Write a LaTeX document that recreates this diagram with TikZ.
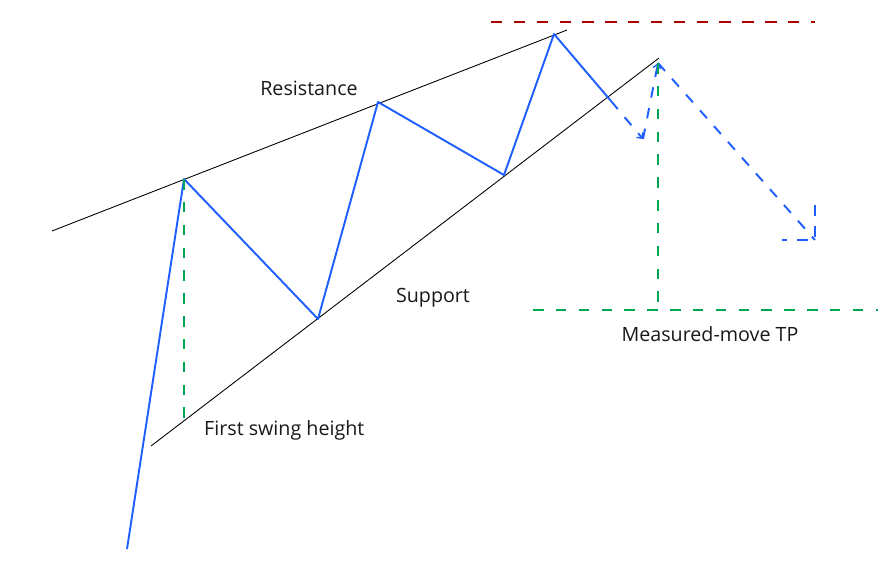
\documentclass[tikz,border=0pt]{standalone}
\usepackage{fontspec}
\setmainfont{Open Sans}
\usepackage{tikz}
\usetikzlibrary{arrows.meta,positioning}
\definecolor{trendblue}{RGB}{31,95,255}
\definecolor{targetgreen}{RGB}{0,166,81}
\definecolor{topred}{RGB}{170,0,0}

\begin{document}
\begin{tikzpicture}[
    x=0.02cm, y=-0.02cm,
    every node/.style={font=\fontsize{11.2}{13}\selectfont, text=black!90},
    trendline/.style={black, line width=0.5pt},
    price/.style={trendblue, line width=1.1pt, line join=round},
    projected/.style={trendblue, line width=1.1pt, dash pattern=on 6pt off 6pt},
    measure/.style={targetgreen, line width=1.1pt, dash pattern=on 6pt off 7pt},
    peakline/.style={topred, line width=1.1pt, dash pattern=on 6.5pt off 6.5pt},
    tip/.style={-{Straight Barb[length=2.5pt,width=4.5pt,line width=0.8pt]}}
]
\useasboundingbox (0,0) rectangle (894,585);

% Swing points of the price path
\coordinate (start) at (127,549);
\coordinate (h1) at (184,179);
\coordinate (l1) at (318,319);
\coordinate (h2) at (378,102);
\coordinate (l2) at (504,175);
\coordinate (h3) at (554,34);
\coordinate (brk) at (611,101);
\coordinate (retest) at (643,139);
\coordinate (pull) at (658,63);
\coordinate (tgt) at (815,240);

% Wedge boundaries
\coordinate (resA) at (52,231);
\coordinate (resB) at (567,30);
\coordinate (supA) at (151,446);
\coordinate (supB) at (659,58);
\draw[trendline] (resA) -- (resB);
\draw[trendline] (supA) -- (supB);

% Price path
\draw[price] (start) -- (h1) -- (l1) -- (h2) -- (l2) -- (h3) -- (brk);

% Projected breakdown
\draw[projected, tip] (brk) -- (retest);
\draw[projected, tip] (retest) -- (pull);
\draw[projected] (pull) -- (tgt);
\draw[projected] (815,205) -- (tgt) -- (782,240);

% Peak level
\coordinate (redL) at (491,22);
\coordinate (redR) at (815,22);
\draw[peakline] (redL) -- (redR);

% Measured move
\coordinate (swingB) at (184,425);
\coordinate (tpTop) at (658,63);
\coordinate (tpBot) at (658,310);
\coordinate (tpL) at (533,310);
\coordinate (tpR) at (878,310);
\draw[measure] (h1) -- (swingB);
\draw[measure] (tpTop) -- (tpBot);
\draw[measure] (tpL) -- (tpR);

% Labels
\node (resistance) at (309,88) {Resistance};
\node (support) at (433,298) {Support};
\node[anchor=west] (swing) at (198,430) {First swing height};
\node (tp) at (710,334) {Measured-move TP};

\end{tikzpicture}
\end{document}
